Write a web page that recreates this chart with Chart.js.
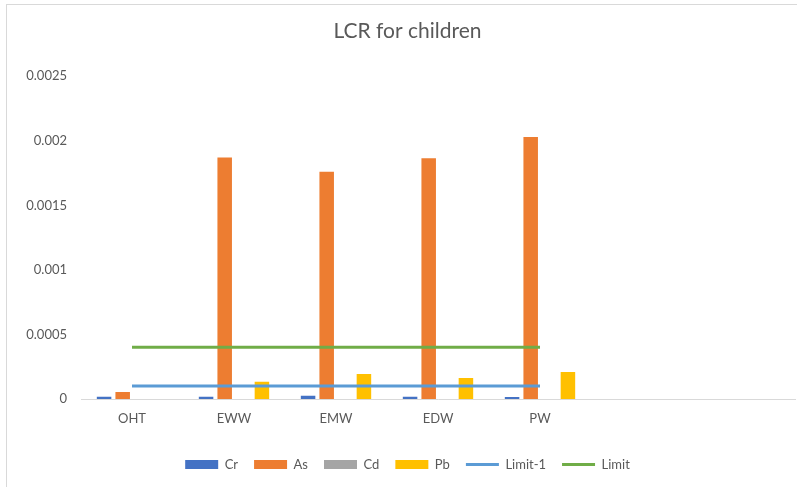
<!DOCTYPE html>
<html>
<head>
<meta charset="utf-8">
<script src="https://cdn.jsdelivr.net/npm/chart.js@4.4.1/dist/chart.umd.min.js"></script>
<style>
  html, body { margin: 0; padding: 0; background: #fff; }
  #wrap { width: 797px; height: 487px; position: relative; }
</style>
</head>
<body>
<div id="wrap"><canvas id="lcrChart" width="797" height="487"></canvas></div>
<script>
// categories (the last two are empty slots, as in the source sheet)
const sites = ['OHT', 'EWW', 'EMW', 'EDW', 'PW', '', ''];

// LCR values
const crValues = [0.000018, 0.000018, 0.000025, 0.000018, 0.000015, null, null];
const asValues = [0.000054, 0.00187, 0.00176, 0.001865, 0.00203, null, null];
const cdValues = [0, 0, 0, 0, 0, null, null];
const pbValues = [0, 0.000133, 0.000193, 0.000163, 0.000209, null, null];
const limit1Values = [0.0001, 0.0001, 0.0001, 0.0001, 0.0001, null, null];
const limitValues = [0.0004, 0.0004, 0.0004, 0.0004, 0.0004, null, null];

const yTicks = [0, 0.0005, 0.001, 0.0015, 0.002, 0.0025];

const textColor = '#595959';
const fontFamily = 'Lato, "Open Sans", sans-serif';

// light frame round the chart (only its left and top edges show)
const framePlugin = {
    id: 'frame',
    beforeDraw(chart) {
        const ctx = chart.ctx;
        ctx.save();
        ctx.fillStyle = '#ffffff';
        ctx.fillRect(0, 0, chart.width, chart.height);
        ctx.strokeStyle = '#d9d9d9';
        ctx.lineWidth = 1;
        ctx.strokeRect(6.5, 4.5, 900, 700);
        ctx.restore();
    }
};

function barSet(label, data, color) {
    return {
        type: 'bar',
        label: label,
        data: data,
        backgroundColor: color,
        borderWidth: 0,
        categoryPercentage: 0.73,
        barPercentage: 0.78,
        pointStyle: 'rect',
        order: 2
    };
}

function lineSet(label, data, color) {
    return {
        type: 'line',
        label: label,
        data: data,
        borderColor: color,
        backgroundColor: color,
        borderWidth: 3,
        pointRadius: 0,
        pointStyle: 'line',
        fill: false,
        tension: 0,
        order: 1
    };
}

const ctx = document.getElementById('lcrChart').getContext('2d');
new Chart(ctx, {
    data: {
        labels: sites,
        datasets: [
            barSet('Cr', crValues, '#4472C4'),
            barSet('As', asValues, '#ED7D31'),
            barSet('Cd', cdValues, '#A5A5A5'),
            barSet('Pb', pbValues, '#FFC000'),
            lineSet('Limit-1', limit1Values, '#5B9BD5'),
            lineSet('Limit', limitValues, '#70AD47')
        ]
    },
    options: {
        responsive: false,
        animation: false,
        layout: { padding: { left: 20, right: 2, top: 0, bottom: 6 } },
        plugins: {
            title: {
                display: true,
                text: 'LCR for children',
                color: textColor,
                font: { family: fontFamily, size: 21, weight: 'normal' },
                padding: { top: 19, bottom: 32 }
            },
            legend: {
                position: 'bottom',
                labels: {
                    usePointStyle: true,
                    pointStyleWidth: 33,
                    boxHeight: 9,
                    padding: 16,
                    color: textColor,
                    font: { family: fontFamily, size: 13 },
                    sort: (a, b) => a.datasetIndex - b.datasetIndex
                }
            },
            tooltip: { enabled: false }
        },
        scales: {
            x: {
                grid: { display: false, drawTicks: false },
                border: { color: '#d9d9d9', width: 1 },
                ticks: {
                    color: textColor,
                    padding: 12,
                    font: { family: fontFamily, size: 13 }
                },
                afterFit(scale) { scale.height = 43; }
            },
            y: {
                min: 0,
                max: 0.0025,
                grid: { display: false, drawTicks: false },
                border: { display: false },
                afterBuildTicks(scale) {
                    scale.ticks = yTicks.map(v => ({ value: v }));
                },
                ticks: {
                    color: textColor,
                    padding: 14,
                    font: { family: fontFamily, size: 13 },
                    callback: v => String(v)
                },
                afterFit(scale) { scale.width = 61; }
            }
        }
    },
    plugins: [framePlugin]
});
</script>
</body>
</html>
